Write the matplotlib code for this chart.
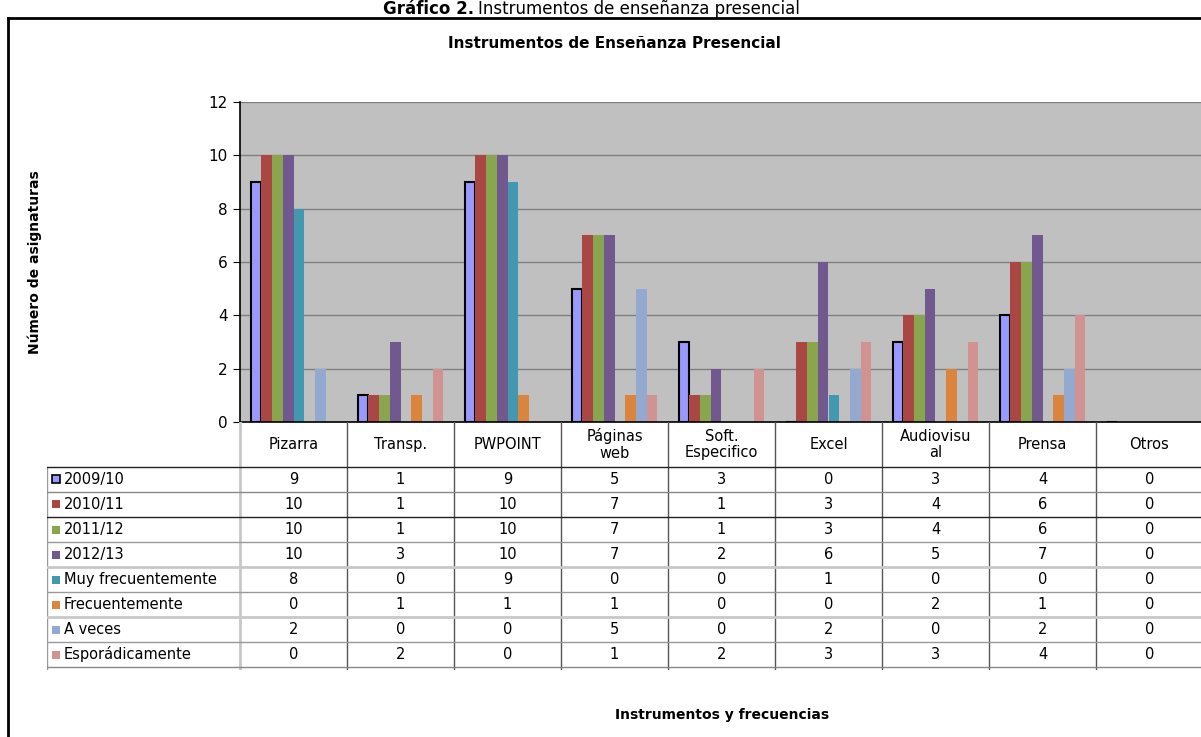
import matplotlib
matplotlib.use('Agg')
import matplotlib.pyplot as plt
import numpy as np
from matplotlib.patches import Rectangle
from matplotlib.lines import Line2D

plt.rcParams['font.family'] = ['DejaVu Sans']

categories = ['Pizarra', 'Transp.', 'PWPOINT', 'Páginas\nweb', 'Soft.\nEspecifico',
              'Excel', 'Audiovisu\nal', 'Prensa', 'Otros']
series_names = ['2009/10', '2010/11', '2011/12', '2012/13', 'Muy frecuentemente',
                'Frecuentemente', 'A veces', 'Esporádicamente']
s2009 = [9, 1, 9, 5, 3, 0, 3, 4, 0]
s2010 = [10, 1, 10, 7, 1, 3, 4, 6, 0]
s2011 = [10, 1, 10, 7, 1, 3, 4, 6, 0]
s2012 = [10, 3, 10, 7, 2, 6, 5, 7, 0]
muy_frec = [8, 0, 9, 0, 0, 1, 0, 0, 0]
frec = [0, 1, 1, 1, 0, 0, 2, 1, 0]
a_veces = [2, 0, 0, 5, 0, 2, 0, 2, 0]
esporad = [0, 2, 0, 1, 2, 3, 3, 4, 0]
series = [s2009, s2010, s2011, s2012, muy_frec, frec, a_veces, esporad]
colors = ['#9999FF', '#AA4643', '#89A54E', '#71588F', '#4198AF',
          '#DB843D', '#93A9CF', '#D19392']

W, H = 1201, 737
fig = plt.figure(figsize=(W / 100, H / 100), dpi=100)

def fx(px):
    return px / W

def fy(py):
    return 1 - py / H

# frame
fig.add_artist(Line2D([fx(8), fx(8)], [fy(18), fy(740)], color='black', lw=2))
fig.add_artist(Line2D([fx(8), fx(1205)], [fy(18), fy(18)], color='black', lw=2))

# caption
fig.text(fx(474), fy(14), 'Gráfico 2.', fontsize=12, fontweight='bold', ha='right', va='baseline')
fig.text(fx(478), fy(14), 'Instrumentos de enseñanza presencial', fontsize=12, ha='left', va='baseline')

fig.text(fx(614), fy(43), 'Instrumentos de Enseñanza Presencial', fontsize=11,
         fontweight='bold', ha='center', va='center')
fig.text(fx(35), fy(262), 'Número de asignaturas', fontsize=10, fontweight='bold',
         rotation=90, ha='center', va='center')
fig.text(fx(722), fy(715), 'Instrumentos y frecuencias', fontsize=10, fontweight='bold',
         ha='center', va='center')

# bar chart
x0, x1 = 240, 1203
ax = fig.add_axes([fx(x0), fy(422), (x1 - x0) / W, 320 / H])
ax.set_facecolor('#C0C0C0')
n = len(series)
bw = 0.1
ind = np.arange(len(categories))
for i, (vals, c) in enumerate(zip(series, colors)):
    pos = ind - bw * n / 2 + bw * (i + 0.5)
    if i == 0:
        ax.bar(pos, vals, bw, color=c, edgecolor='black', linewidth=1.5, zorder=3)
    else:
        ax.bar(pos, vals, bw, color=c, linewidth=0, zorder=3)
ax.set_xlim(-0.5, len(categories) - 0.5)
ax.set_ylim(0, 12)
ax.set_yticks(range(0, 13, 2))
ax.set_xticks([])
ax.yaxis.grid(True, color='#7F7F7F', lw=1)
ax.set_axisbelow(True)
for s in ['top', 'right']:
    ax.spines[s].set_visible(False)
ax.spines['left'].set_linewidth(1.2)
ax.spines['bottom'].set_linewidth(1.2)
ax.spines['bottom'].set_zorder(5)
ax.tick_params(axis='y', direction='out', length=5, labelsize=11, pad=4)

# data table
tbl_left = 47
cat_w = (x1 - x0) / len(categories)
ext = (x0 - tbl_left) / cat_w
ta = fig.add_axes([fx(tbl_left), fy(670), (x1 - tbl_left) / W, 248 / H])
ta.set_xlim(-0.5 - ext, len(categories) - 0.5)
ta.set_ylim(248, 0)
ta.axis('off')
head_h, row_h = 45, 25
lab_left = -0.5 - ext

for j, cat in enumerate(categories):
    ta.text(j, head_h / 2, cat, ha='center', va='center', fontsize=10.5, linespacing=1.15)
    if j > 0:
        ta.plot([j - 0.5, j - 0.5], [0, 248], color='#555555', lw=1)
ta.plot([-0.5, -0.5], [0, 248], color='#C8C8C8', lw=2)
ta.plot([len(categories) - 0.5] * 2, [0, 248], color='#555555', lw=1)
ta.plot([lab_left + 0.003, lab_left + 0.003], [head_h, 248], color='#999999', lw=1)

line_cols = ['#222222', '#888888', '#222222', '#999999', '#C8C8C8',
             '#999999', '#C8C8C8', '#999999', '#888888']
for r in range(len(series) + 1):
    y = head_h + r * row_h
    ta.plot([lab_left, len(categories) - 0.5], [y, y], color=line_cols[r],
            lw=2 if line_cols[r] == '#C8C8C8' else 1)

sq = 8 / cat_w
for r, (name, vals, c) in enumerate(zip(series_names, series, colors)):
    yc = head_h + r * row_h + row_h / 2
    ta.add_patch(Rectangle((lab_left + 5 / cat_w, yc - 4), sq, 8, facecolor=c,
                           edgecolor='black' if r == 0 else 'none', lw=1.2))
    ta.text(lab_left + 17 / cat_w, yc, name, ha='left', va='center', fontsize=10.5)
    for j, v in enumerate(vals):
        ta.text(j, yc, str(v), ha='center', va='center', fontsize=10.5)

fig.savefig('out.png', dpi=100)
